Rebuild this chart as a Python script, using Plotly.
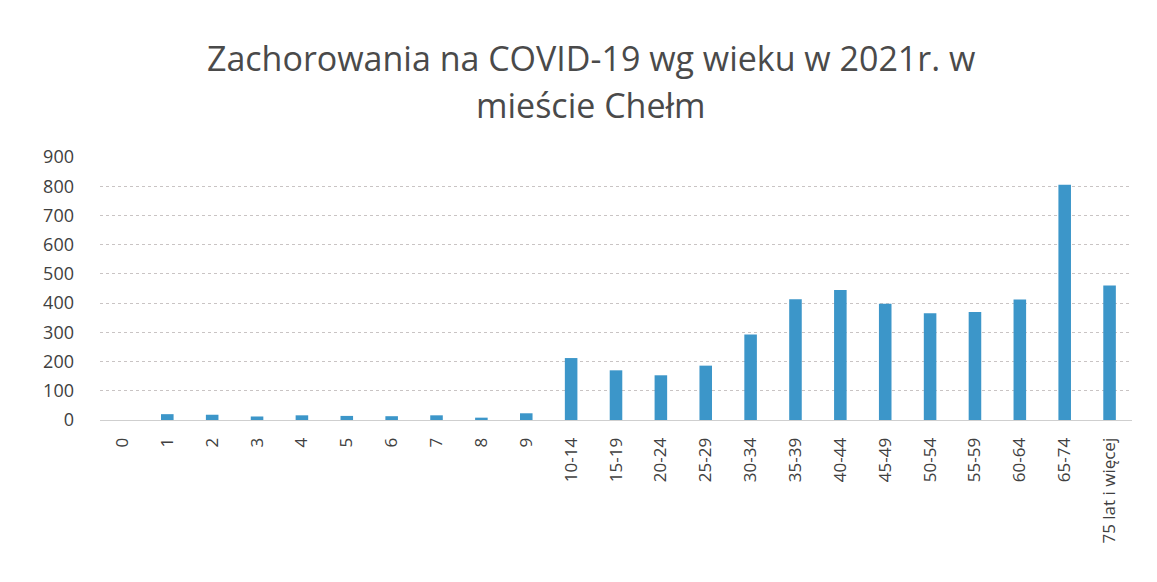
import plotly.graph_objects as go

categories = ["0", "1", "2", "3", "4", "5", "6", "7", "8", "9",
              "10-14", "15-19", "20-24", "25-29", "30-34", "35-39", "40-44",
              "45-49", "50-54", "55-59", "60-64", "65-74", "75 lat i więcej"]
cases = [0, 20, 18, 12, 16, 14, 13, 16, 8, 23,
         212, 170, 153, 186, 293, 413, 445, 398, 365, 370, 412, 805, 460]
y_ticks = [0, 100, 200, 300, 400, 500, 600, 700, 800, 900]
title_line1 = "Zachorowania na COVID-19 wg wieku w 2021r. w"
title_line2 = "mieście Chełm"

title_font = dict(family="Open Sans, sans-serif", size=34, color="#4a4a4a")

fig = go.Figure()
fig.add_trace(go.Bar(x=categories, y=cases, marker_color="#3C96C9",
                     marker_line_width=0))

fig.update_layout(
    width=1157, height=582,
    paper_bgcolor="white", plot_bgcolor="white",
    margin=dict(l=92, r=33, t=149, b=170),
    bargap=0.72,
    showlegend=False,
    title=dict(text=title_line1, x=0.504, xanchor="center",
               y=1 - 51 / 582, yanchor="middle", font=title_font),
    font=dict(family="Open Sans, sans-serif", color="#404040"),
    annotations=[dict(
        text=title_line2, xref="paper", yref="paper",
        x=(0.504 * 1157 - 92) / (1157 - 92 - 33), y=(412 - 97) / 263,
        xanchor="center", yanchor="middle", showarrow=False, font=title_font)],
)
fig.update_xaxes(
    tickangle=-90, tickfont=dict(size=17, color="#404040"),
    showline=True, linecolor="#cfcfcf", linewidth=1,
    ticks="", showgrid=False, ticklabelstandoff=10,
)
fig.update_yaxes(
    range=[0, 900], tickvals=y_ticks, tickfont=dict(size=18, color="#404040"),
    showgrid=True, gridcolor="#c9c4c4", gridwidth=1, griddash="dot",
    zeroline=False, ticks="", ticklabelstandoff=25,
)

fig.write_html("out.html")
